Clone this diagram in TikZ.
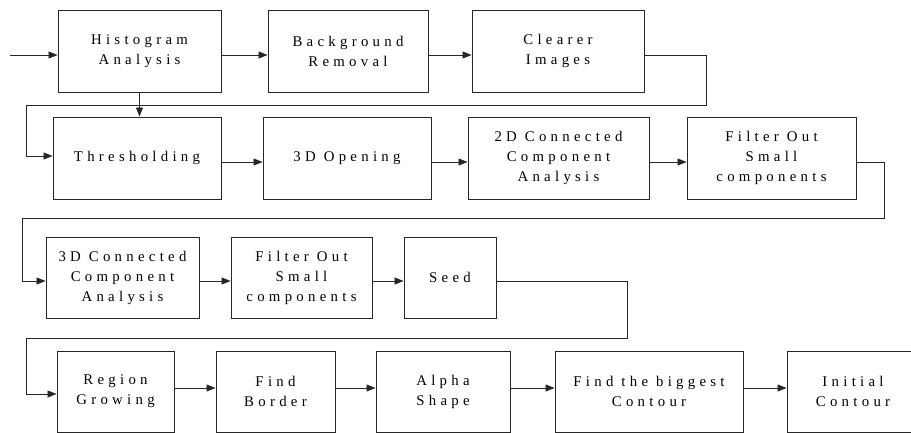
\documentclass[tikz,border=0pt]{standalone}
\usepackage{fontspec}
\setmainfont{Liberation Serif}[LetterSpace=29]
\usetikzlibrary{arrows.meta}

\tikzset{
  stage/.style={draw=black!85, line width=0.9pt, rectangle, inner sep=0pt,
    align=center, anchor=center, font=\fontsize{14.8}{20}\selectfont},
  flow/.style={draw=black!85, line width=0.8pt,
    -{Triangle[length=9pt,width=7pt]}},
}

\begin{document}
\begin{tikzpicture}[x=1pt,y=-1pt]
  \useasboundingbox (0,0) rectangle (911,433);
  \clip (0,0) rectangle (911,433);

  % row 1
  \node[stage, minimum width=163, minimum height=82] (hist)  at (139.5,51) {Histogram\\Analysis};
  \node[stage, minimum width=160, minimum height=82] (back)  at (348,51)   {Background\\Removal};
  \node[stage, minimum width=172, minimum height=82] (clear) at (558,51)   {Clearer\\Images};

  % row 2
  \node[stage, minimum width=168, minimum height=82] (thr)   at (137,158)   {Thresholding};
  \node[stage, minimum width=168, minimum height=82] (open)  at (347,158)   {3D Opening};
  \node[stage, minimum width=181, minimum height=82] (cc2)   at (558.5,158) {2D Connected\\Component\\Analysis};
  \node[stage, minimum width=169, minimum height=82] (filt1) at (771.5,158) {Filter Out\\Small\\components};

  % row 3
  \node[stage, minimum width=153, minimum height=81] (cc3)   at (122.5,277.5) {3D Connected\\Component\\Analysis};
  \node[stage, minimum width=141, minimum height=81] (filt2) at (301.5,277.5) {Filter Out\\Small\\components};
  \node[stage, minimum width=92,  minimum height=81] (seed)  at (450,277.5)   {Seed};

  % row 4
  \node[stage, minimum width=117, minimum height=81] (reg)   at (115.5,391.5) {Region\\Growing};
  \node[stage, minimum width=119, minimum height=81] (bord)  at (275.5,391.5) {Find\\Border};
  \node[stage, minimum width=134, minimum height=81] (alpha) at (443,391.5)   {Alpha\\Shape};
  \node[stage, minimum width=188, minimum height=81] (big)   at (649,391.5)   {Find the biggest\\Contour};
  \node[stage, minimum width=132, minimum height=81] (init)  at (853,391.5)   {Initial\\Contour};

  % input
  \coordinate (in) at (10,55);
  \draw[flow] (in) -- ([yshift=-4pt]hist.west);

  % row 1 links
  \draw[flow] ([yshift=-4pt]hist.east) -- ([yshift=-4pt]back.west);
  \draw[flow] ([yshift=-4pt]back.east) -- ([yshift=-4pt]clear.west);
  \draw[flow] (hist.south) -- (hist.south |- thr.north);

  % wrap row 1 -> row 2
  \coordinate (w1a) at (706,55);
  \coordinate (w1b) at (706,105);
  \coordinate (w1c) at (26,105);
  \coordinate (w1d) at (26,156);
  \draw[flow] ([yshift=-4pt]clear.east) -- (w1a) -- (w1b) -- (w1c) -- (w1d) -- ([yshift=2pt]thr.west);

  % row 2 links
  \draw[flow] ([yshift=-4pt]thr.east) -- ([yshift=-4pt]open.west);
  \draw[flow] ([yshift=-4pt]open.east) -- ([yshift=-4pt]cc2.west);
  \draw[flow] ([yshift=-4pt]cc2.east) -- ([yshift=-4pt]filt1.west);

  % wrap row 2 -> row 3
  \coordinate (w2a) at (884,162);
  \coordinate (w2b) at (884,218);
  \coordinate (w2c) at (22,218);
  \coordinate (w2d) at (22,281);
  \draw[flow] ([yshift=-4pt]filt1.east) -- (w2a) -- (w2b) -- (w2c) -- (w2d) -- ([yshift=-3.5pt]cc3.west);

  % row 3 links
  \draw[flow] ([yshift=-3.5pt]cc3.east) -- ([yshift=-3.5pt]filt2.west);
  \draw[flow] ([yshift=-3.5pt]filt2.east) -- ([yshift=-3.5pt]seed.west);

  % wrap row 3 -> row 4
  \coordinate (w3a) at (627,281);
  \coordinate (w3b) at (627,338);
  \coordinate (w3c) at (26,338);
  \coordinate (w3d) at (26,394);
  \draw[flow] ([yshift=-3.5pt]seed.east) -- (w3a) -- (w3b) -- (w3c) -- (w3d) -- ([yshift=-2.5pt]reg.west);

  % row 4 links
  \draw[flow] ([yshift=3.5pt]reg.east) -- ([yshift=3.5pt]bord.west);
  \draw[flow] ([yshift=3.5pt]bord.east) -- ([yshift=3.5pt]alpha.west);
  \draw[flow] ([yshift=3.5pt]alpha.east) -- ([yshift=3.5pt]big.west);
  \draw[flow] ([yshift=3.5pt]big.east) -- ([yshift=3.5pt]init.west);
\end{tikzpicture}
\end{document}
